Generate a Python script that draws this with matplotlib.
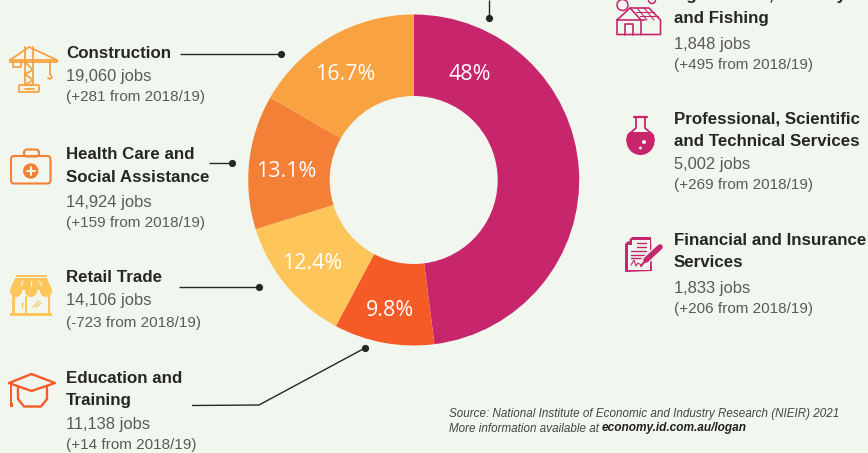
import matplotlib
matplotlib.use("Agg")
import matplotlib.pyplot as plt
from matplotlib.patches import Circle, Rectangle, FancyBboxPatch, Polygon

BG = "#f1f7ee"
W, H = 868, 453

shares = [48, 9.8, 12.4, 13.1, 16.7]
share_labels = ["48%", "9.8%", "12.4%", "13.1%", "16.7%"]
share_colors = ["#c7266c", "#f45b26", "#fec65a", "#f48037", "#f9a242"]

names = ["Construction", "Health Care and\nSocial Assistance", "Retail Trade",
         "Education and\nTraining", "Agricultural, Forestry\nand Fishing",
         "Professional, Scientific\nand Technical Services",
         "Financial and Insurance\nServices"]
jobs = ["19,060 jobs", "14,924 jobs", "14,106 jobs", "11,138 jobs",
        "1,848 jobs", "5,002 jobs", "1,833 jobs"]
changes = ["(+281 from 2018/19)", "(+159 from 2018/19)", "(-723 from 2018/19)",
           "(+14 from 2018/19)", "(+495 from 2018/19)", "(+269 from 2018/19)",
           "(+206 from 2018/19)"]

DARK = "#262626"
GREY = "#5a5a5a"
FONT = "Liberation Sans"
PINK = "#c7266c"

fig = plt.figure(figsize=(W / 100, H / 100), dpi=100, facecolor=BG)

# page axes in pixel coordinates, y pointing down
ax = fig.add_axes([0, 0, 1, 1])
ax.set_xlim(0, W)
ax.set_ylim(H, 0)
ax.axis("off")
ax.set_zorder(3)

# donut
cx, cy, r = 413.7, 180, 165.5
pie_ax = fig.add_axes([(cx - r) / W, 1 - (cy + r) / H, 2 * r / W, 2 * r / H])
wedges, _ = pie_ax.pie(shares, colors=share_colors, startangle=90, counterclock=False,
                       radius=1, wedgeprops=dict(width=1 - 84 / 165.5, linewidth=0))
pie_ax.set_xlim(-1, 1)
pie_ax.set_ylim(-1, 1)

label_pos = [(469.5, 74.5), (390, 310), (312.3, 263.5), (286, 171.5), (345.3, 74.5)]
for (lx, ly), lab in zip(label_pos, share_labels):
    ax.text(lx, ly, lab, color="white", fontsize=15.4, family="Open Sans",
            ha="center", va="center", zorder=5)


def entry(x, y_lines, y_job, y_change, name, job, change):
    for y, line in zip(y_lines, name.split("\n")):
        ax.text(x, y, line, fontsize=12.15, fontweight="bold", color=DARK,
                family=FONT, va="center", ha="left")
    ax.text(x, y_job, job, fontsize=11.9, color=GREY, family=FONT, va="center", ha="left")
    ax.text(x, y_change, change, fontsize=11.0, color=GREY, family=FONT, va="center", ha="left")


entry_pos = [
    (66, (53.5,), 76, 97.5),
    (66, (154.5, 177.5), 202, 222.5),
    (66, (277.5,), 301, 322.5),
    (66, (378.5, 400.5), 425, 445.5),
    (674, (-4.5, 18.5), 44, 65.5),
    (674, (118.5, 141.5), 164, 185.5),
    (674, (240.5, 262.5), 288, 309.5),
]
for (ex, ey, ej, ec), n, j, c in zip(entry_pos, names, jobs, changes):
    entry(ex, ey, ej, ec, n, j, c)

# leader lines
leaders = [
    ([180, 281], [54, 54]),
    ([209, 232], [162.7, 162.7]),
    ([179, 259], [286.5, 286.5]),
    ([192, 259, 365], [405.5, 405, 348]),
    ([488.5, 488.5], [0, 18.3]),
]
for xs, ys in leaders:
    ax.plot(xs, ys, color=DARK, lw=1.0, zorder=6, solid_capstyle="butt")
    ax.plot(xs[-1], ys[-1], "o", color=DARK, ms=5.2, mew=0, zorder=6)

# icons, drawn roughly from lines and patches
ORANGE1, ORANGE2, YEL, RED = share_colors[4], share_colors[3], share_colors[2], share_colors[1]


def pl(xs, ys, col, lw=1.3):
    ax.plot(xs, ys, color=col, lw=lw, solid_capstyle="round", solid_joinstyle="round")


# crane
c = ORANGE1
pl([10, 29, 57, 10], [60, 47, 60, 60], c)
pl([10, 10, 57, 57], [60, 62, 62, 60], c)
pl([25, 25, 33, 33], [47, 85, 85, 47], c)
pl([25, 33, 25, 33, 25], [62, 70, 74, 80, 85], c)
pl([13, 13, 21, 21], [62, 67, 67, 62], c)
pl([50, 50], [62, 74], c)
pl([50, 52, 50, 48], [74, 77, 79, 78], c)
ax.add_patch(FancyBboxPatch((19, 85), 20, 7, boxstyle="round,pad=0,rounding_size=1", fc="none", ec=c, lw=1.3))
pl([25, 34], [88.5, 88.5], c)

# medical case
c = ORANGE2
ax.add_patch(FancyBboxPatch((11, 156), 39.5, 27.5, boxstyle="round,pad=0,rounding_size=3", fc="none", ec=c, lw=1.5))
ax.add_patch(FancyBboxPatch((24, 149.5), 15, 7, boxstyle="round,pad=0,rounding_size=3", fc="none", ec=c, lw=1.5))
ax.add_patch(Circle((30.7, 171), 7.7, fc=c, ec="none"))
pl([26.5, 35], [171, 171], BG, 1.4)
pl([30.7, 30.7], [166.7, 175.3], BG, 1.4)

# shop
c = YEL
ax.add_patch(Rectangle((15.5, 274.5), 31, 2.5, fc=c, ec="none"))
ax.add_patch(Polygon([(15, 278), (47, 278), (52, 290), (10, 290)], fc=c, ec="none"))
for sx in (16, 31, 46):
    ax.add_patch(Circle((sx, 291), 6, fc=c, ec="none"))
pl([23, 21], [281, 286], BG, 0.8)
pl([31, 31], [281, 286], BG, 0.8)
pl([39, 42], [281, 286], BG, 0.8)
ax.add_patch(Rectangle((12, 296), 2.5, 17, fc=c, ec="none"))
ax.add_patch(Rectangle((47.5, 296), 2.5, 17, fc=c, ec="none"))
ax.add_patch(Rectangle((24.5, 296), 2, 17, fc=c, ec="none"))
ax.add_patch(Rectangle((10, 313), 42, 2.5, fc=c, ec="none"))
pl([33, 39], [307, 301], c, 0.9)
pl([36, 41], [307, 303], c, 0.9)
pl([22, 22], [302, 308], c, 0.9)

# mortarboard
c = RED
pl([9, 31.5, 55, 31.5, 9], [383, 374, 383, 391, 383], c, 1.7)
pl([18, 18, 24, 41, 47, 47], [387, 399, 406.5, 406.5, 399, 387], c, 1.7)
pl([11, 11], [384, 404], c, 1.4)
ax.add_patch(Rectangle((9.7, 403), 3, 3.5, fc=c, ec="none"))

# farm house
c = PINK
pl([617, 617, 660.5, 660.5, 649, 630, 617, 645], [20, 34.5, 34.5, 20, 8, 8, 20, 20], c, 1.2)
pl([630, 641, 641], [8, 20, 34.5], c, 1.2)
pl([625, 625, 633, 633], [34.5, 24, 24, 34.5], c, 1.2)
pl([636, 654], [12, 12], c, 0.8)
pl([640, 658], [16, 16], c, 0.8)
pl([637, 647], [8, 20], c, 0.8)
pl([644, 654], [8, 20], c, 0.8)
ax.add_patch(Circle((622.5, 5), 5.5, fc="none", ec=c, lw=1.1))
ax.add_patch(Circle((652, 0), 3.5, fc="none", ec=c, lw=1.1))

# flask
ax.add_patch(Circle((640.5, 141), 14, fc=c, ec="none"))
ax.add_patch(Rectangle((626, 125), 29.5, 7, fc=BG, ec="none"))
pl([636, 636, 628, 627], [117, 128, 135, 141], c, 1.3)
pl([645, 645, 653, 654], [117, 128, 135, 141], c, 1.3)
pl([634, 647], [117, 117], c, 1.6)
ax.add_patch(Circle((644, 142), 2, fc=BG, ec="none"))
ax.add_patch(Circle((640.5, 148), 1.4, fc=BG, ec="none"))

# signed document
ax.add_patch(Polygon([(625, 244), (632, 237), (651, 237), (652, 271), (625, 272)], fc=c, ec="none"))
ax.add_patch(Rectangle((627.5, 240), 22, 29.5, fc=BG, ec="none"))
ax.add_patch(Polygon([(625.5, 245), (632, 238), (632, 245)], fc=c, ec="none"))
pl([637, 646], [243, 243], c, 1.0)
pl([637, 646], [247, 247], c, 1.0)
pl([631, 646], [251, 251], c, 1.0)
pl([631, 646], [254.5, 254.5], c, 1.0)
pl([631, 646], [258, 258], c, 1.0)
pl([631, 634, 636, 638, 641, 646], [265, 260, 266, 263, 265, 263], c, 0.8)
pl([645, 661], [261, 246], BG, 6)
pl([646, 660], [260, 247], c, 4)
pl([645, 641], [261, 266], c, 1.5)

# text cut off at the top of the crop
ax.text(0, -7, "employed in the city of Logan in 2019/20", fontsize=11.9, color=GREY, family=FONT,
        va="center", ha="left", clip_on=False)

# source note
ax.text(449, 414, "Source: National Institute of Economic and Industry Research (NIEIR) 2021",
        fontsize=8.33, style="italic", color="#444444", family=FONT, va="center")
ax.text(449, 428.5, "More information available at ", fontsize=8.33, style="italic",
        color="#444444", family=FONT, va="center")
ax.text(601.5, 428.5, "economy.id.com.au/logan", fontsize=8.55, style="italic", fontweight="bold",
        color="#222222", family=FONT, va="center")

fig.savefig("out.png", dpi=100, facecolor=BG)
